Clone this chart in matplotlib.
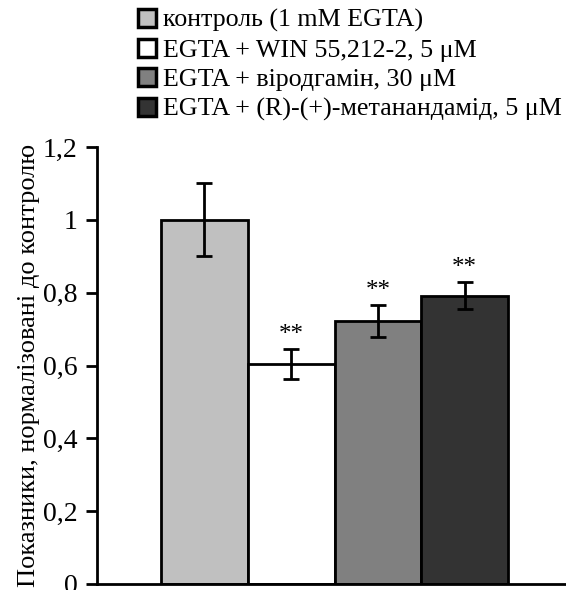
import numpy as np
import matplotlib.pyplot as plt
from matplotlib.patches import Patch

plt.rcParams['font.family'] = ['Liberation Serif', 'DejaVu Serif']

labels = ['контроль (1 mM EGTA)',
          'EGTA + WIN 55,212-2, 5 μM',
          'EGTA + віродгамін, 30 μM',
          'EGTA + (R)-(+)-метанандамід, 5 μM']
values = [1.0, 0.605, 0.722, 0.792]
errors = [0.1, 0.041, 0.044, 0.038]
stars = ['', '**', '**', '**']
colors = ['#c0c0c0', '#ffffff', '#808080', '#333333']

fig = plt.figure(figsize=(5.66, 5.90), dpi=100)
ax = fig.add_axes([0.1714, 0.0102, 0.8286, 0.7406])

x = np.arange(len(values))
ax.bar(x, values, width=1.0, color=colors, edgecolor='black', linewidth=2,
       yerr=errors, error_kw=dict(ecolor='black', elinewidth=2, capsize=6, capthick=2))

# significance marks above the error bars
for xi, v, e, s in zip(x, values, errors, stars):
    if s:
        ax.text(xi, v + e + 0.008, s, ha='center', va='bottom', fontsize=18)

ax.set_xlim(-1.236, 4.167)
ax.set_ylim(0, 1.2)
ax.set_yticks(np.arange(0, 1.21, 0.2))
ax.set_yticklabels(['0', '0,2', '0,4', '0,6', '0,8', '1', '1,2'], fontsize=20)
ax.set_xticks([])
for sp in ['top', 'right']:
    ax.spines[sp].set_visible(False)
ax.spines['left'].set_linewidth(2)
ax.spines['bottom'].set_linewidth(2)
ax.tick_params(axis='y', width=2, length=8, direction='out', pad=6)
ax.set_ylabel('Показники, нормалізовані до контролю', fontsize=19, labelpad=2)

handles = [Patch(facecolor=c, edgecolor='black', linewidth=2.5) for c in colors]
fig.legend(handles, labels, loc='upper left', bbox_to_anchor=(0.244, 0.985),
           frameon=False, fontsize=18.7, handlelength=0.7, handleheight=0.7,
           handletextpad=0.25, labelspacing=0.24, borderaxespad=0, borderpad=0)

fig.savefig('out.png', dpi=100)
